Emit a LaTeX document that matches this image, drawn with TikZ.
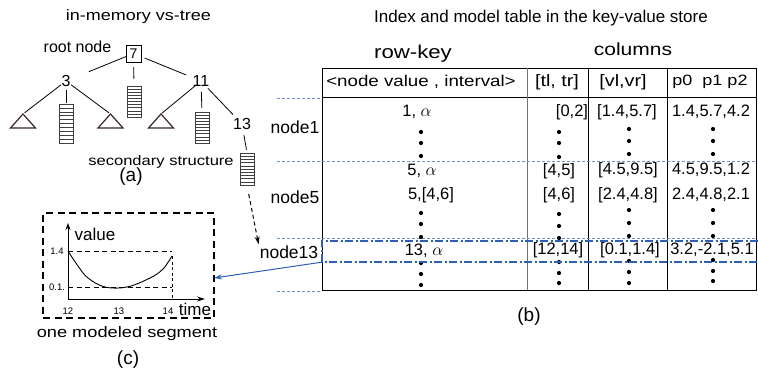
\documentclass[tikz,border=0pt]{standalone}
\usepackage{fontspec}
\setmainfont{Liberation Sans}
\newfontfamily\fN{Liberation Sans}
\newfontfamily\fW{Liberation Sans}[FakeStretch=1.2]
\usetikzlibrary{calc,arrows.meta}
\definecolor{selblue}{HTML}{2E5EB8}
\definecolor{lineblue}{HTML}{6F8FD0}
\definecolor{tribrown}{HTML}{3B2626}
\tikzset{
  fn/.style={font=\fN\fontsize{#1}{#1}\selectfont, inner sep=1pt},
  fw/.style={font=\fW\fontsize{#1}{#1}\selectfont, inner sep=1pt},
  ladder/.style={draw=black!75, line width=0.6pt, minimum width=14pt, minimum height=#1, inner sep=0pt,
    path picture={\foreach \k in {1,...,9}{\draw[line width=0.5pt, black!75]
      ($(path picture bounding box.north west)!\k/10!(path picture bounding box.south west)$) --
      ($(path picture bounding box.north east)!\k/10!(path picture bounding box.south east)$);}}},
  tri/.style={draw=tribrown, line width=1.2pt, line join=miter},
  edge/.style={line width=0.8pt},
  tabline/.style={line width=1pt},
  guide/.style={lineblue, line width=0.8pt, dash pattern=on 3pt off 2pt},
  dotm/.style={circle, fill=black, inner sep=0pt, minimum size=4.2pt},
  cdash/.style={line width=1.1pt, dash pattern=on 7pt off 4.5pt},
  seldash/.style={selblue, line width=1.6pt, dash pattern=on 8pt off 2.5pt on 2pt off 2.5pt},
}
\begin{document}
\begin{tikzpicture}[x=1pt,y=-1pt]
\useasboundingbox (0,0) rectangle (758,376);

%% ---------------- (a) tree ----------------
\node[fw=15] (ta) at (138.5,17) {in-memory vs-tree};
\node[fn=16] (root) at (77.5,47) {root node};
\node[fn=14, draw, line width=0.7pt, minimum width=15pt, minimum height=17pt, inner sep=0pt] (n7) at (133.5,53.5) {7};
\node[fn=16] (n3) at (66,81) {3};
\node[fn=16] (n11) at (201,81) {11};
\node[fn=16] (n13) at (242,124) {13};
\node[ladder=31pt] (l7) at (134,101.5) {};
\node[ladder=39pt] (l3) at (66,123.5) {};
\node[ladder=31pt] (l11) at (202,127.5) {};
\node[ladder=32pt] (l13) at (247,169) {};
\coordinate (t1) at (23,114);
\coordinate (t2) at (110.5,114);
\coordinate (t3) at (161,114);
\foreach \t in {t1,t2,t3}{\draw[tri] (\t) -- ++(-12.5,14) -- ++(25,0) -- cycle;}

\draw[edge, shorten <=7.5pt, shorten >=24.7pt] (n7.center) -- (n3.center);
\draw[edge, shorten <=12pt, shorten >=16pt] (n7.center) -- (n11.center);
\draw[edge, shorten <=13.5pt, shorten >=7pt] (n7.center) -- (l7.north);
\draw[edge, shorten <=6.4pt, shorten >=2pt] (n3.center) -- (t1);
\draw[edge, shorten <=9pt, shorten >=1pt] (n3.center) -- (l3.north);
\draw[edge, shorten <=6.4pt, shorten >=2pt] (n3.center) -- (t2);
\draw[edge, shorten <=7.2pt, shorten >=1pt] (n11.center) -- (t3);
\draw[edge, shorten <=11pt, shorten >=4pt] (n11.center) -- (l11.north);
\draw[edge, shorten <=9.9pt, shorten >=13pt] (n11.center) -- (n13.center);
\draw[edge, shorten <=11pt, shorten >=3pt] (n13.center) -- (l13.north);

\node[fw=13.8] (sec) at (161,162) {secondary structure};
\node[fn=19] (capa) at (131,177) {(a)};

%% ---------------- (b) table ----------------
\node[fn=17] (tb) at (541,18) {Index and model table in the key-value store};
\node[fw=18.5] (rk) at (413,54) {row-key};
\node[fw=17.5] (cols) at (633,49) {columns};

\draw[tabline] (322,68) rectangle (756,290);
\draw[tabline] (322,97) -- (756,97);
\draw[tabline, black!55] (527,68) -- (527,290);
\draw[tabline] (588,68) -- (588,290);
\draw[tabline] (667,68) -- (667,290);

\node[fw=15.6] (h1) at (421,82) {<node value , interval>};
\node[fw=16.5] (h2) at (557,82) {[tl, tr]};
\node[fw=16.5] (h3) at (623,82) {[vl,vr]};
\node[fw=15] (h4) at (710,82) {p0~~p1 p2};

\draw[guide] (277,98) -- (322,98);
\draw[guide] (277,161) -- (757,161);
\draw[guide] (277,238) -- (757,238);
\draw[guide] (277,291) -- (322,291);

\node[fn=17.5] (lab1) at (295,127) {node1};
\node[fn=17.5] (lab5) at (295,197) {node5};
\node[fn=17.5] (lab13) at (289,252) {node13};

% row 1
\node[fn=16.5] (r1a) at (417,112) {1, $\alpha$};
\node[fn=16.5] (r1b) at (572,112) {[0,2]};
\node[fn=16.5] (r1c) at (627,112) {[1.4,5.7]};
\node[fn=16.5] (r1d) at (711,112) {1.4,5.7,4.2};
% row 5
\node[fn=16.5] (r5a) at (422,171) {5, $\alpha$};
\node[fn=16.5] (r5b) at (559,171) {[4,5]};
\node[fn=16.5] (r5c) at (628,170) {[4.5,9.5]};
\node[fn=16.5] (r5d) at (711,170) {4.5,9.5,1.2};
\node[fn=16.5] (r6a) at (431,195) {5,[4,6]};
\node[fn=16.5] (r6b) at (559,195) {[4,6]};
\node[fn=16.5] (r6c) at (628,195) {[2.4,4.8]};
\node[fn=16.5] (r6d) at (711,195) {2.4,4.8,2.1};
% row 13
\node[fn=16.5] (r13a) at (424,251) {13, $\alpha$};
\node[fn=16.5] (r13b) at (558,250) {[12,14]};
\node[fn=16.5] (r13c) at (630,250) {[0.1,1.4]};
\node[fn=16.5] (r13d) at (712,250) {3.2,-2.1,5.1};

% dots
\foreach \x/\a/\b/\c in {421/132/143/156, 559/132/143/157, 629/129/141/154, 713/129/141/154,
                        421/213/224/237, 559/214/226/238, 629/210/223/236, 713/210/223/236,
                        421/263/274/285, 559/262/273/283, 629/261/272/283, 713/260/271/281}{
  \node[dotm] at (\x,\a) {};
  \node[dotm] at (\x,\b) {};
  \node[dotm] at (\x,\c) {};
}

% selected row (open on the right, as in the picture)
\node[minimum width=436pt, minimum height=21pt, inner sep=0pt] (sel) at (540,251.5) {};
\draw[seldash] (sel.north east) -- (sel.north west) -- (sel.south west) -- (sel.south east);

\node[fn=19] (capb) at (529,317) {(b)};

%% ---------------- (c) modeled segment ----------------
\node[cdash, draw, minimum width=171pt, minimum height=105pt, inner sep=0pt] (cbox) at (128.5,265.5) {};
\coordinate (O) at (68,299);
\coordinate (ytop) at (68,223);
\coordinate (xend) at (205,299);
\draw[line width=0.9pt, -{Stealth[length=7pt,width=5pt]}] (O) -- (ytop);
\draw[line width=0.9pt, -{Stealth[length=8pt,width=5pt]}] (O) -- (xend);
\draw[line width=0.9pt, dash pattern=on 5pt off 3.5pt] (68,251) -- (172,251);
\draw[line width=0.9pt, dash pattern=on 5pt off 3.5pt] (68,287) -- (172,287);
\draw[line width=0.9pt, dash pattern=on 3pt off 2.5pt] (172,256) -- (172,299);
\draw[line width=0.9pt] plot[smooth, tension=0.6] coordinates {(68,251) (78,266) (88,278) (105,287) (127,287) (150,278) (163,269) (172,256)};
\node[fn=17] (val) at (95,234) {value};
\node[fn=17] (tim) at (195,309) {time};
\node[fn=9.5] (y14) at (57,251) {1.4};
\node[fn=9.5] (y01) at (57,287) {0.1.};
\node[fn=9.5] (x12) at (68,311) {12};
\node[fn=9.5] (x13) at (119,311) {13};
\node[fn=9.5] (x14) at (168,311) {14};
\node[fw=15.2] (seg) at (127,334) {one modeled segment};
\node[fn=19] (capc) at (128,360) {(c)};

%% connectors between parts
\coordinate (cin) at (214,278);
\draw[selblue, line width=1pt, -{Stealth[length=8pt,width=5pt]}] (sel.south west) -- (cin);
\draw[line width=1pt, dash pattern=on 4pt off 3pt, -{Stealth[length=8pt,width=5pt]}, shorten <=9pt] (l13.south) -- (lab13.north west);
\end{tikzpicture}
\end{document}
